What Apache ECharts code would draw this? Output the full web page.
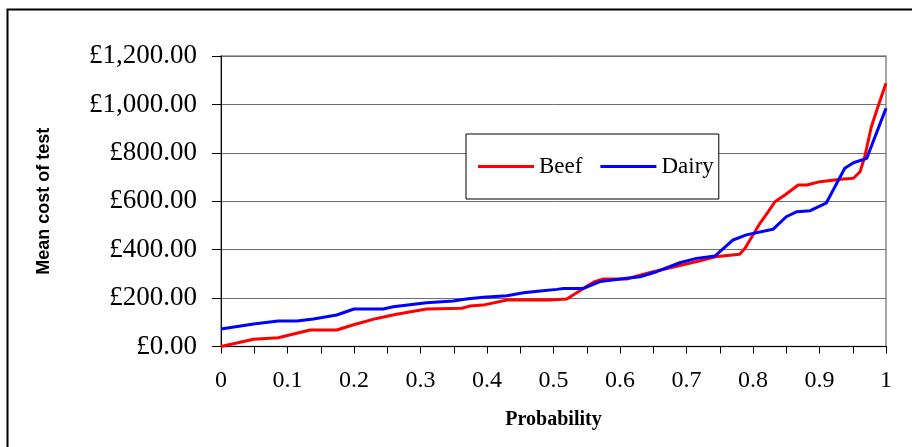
<!DOCTYPE html>
<html>
<head>
<meta charset="utf-8">
<script src="https://cdn.jsdelivr.net/npm/echarts@6/dist/echarts.min.js"></script>
<style>html,body{margin:0;padding:0;background:#fff;}#c{width:912px;height:447px;}</style>
</head>
<body>
<div id="c"></div>
<script>
// Probability (x) and mean cost (y) at visible breakpoints
const beefProb = [0, 0.049, 0.086, 0.134, 0.174, 0.198, 0.234, 0.264, 0.309, 0.362, 0.374, 0.394, 0.43, 0.495, 0.52, 0.545, 0.562, 0.575, 0.61, 0.63, 0.65, 0.69, 0.725, 0.743, 0.78, 0.788, 0.811, 0.823, 0.833, 0.848, 0.868, 0.881, 0.901, 0.932, 0.951, 0.961, 0.968, 0.978, 0.988, 1.0];
const beefCost = [0, 30, 36, 68, 68, 89, 116, 133, 155, 158, 167, 171, 192, 192, 196, 240, 268, 279, 279, 295, 309, 334, 357, 371, 381, 406, 511, 557, 598, 626, 667, 667, 681, 691, 695, 722, 784, 908, 991, 1087];

const dairyProb = [0, 0.049, 0.086, 0.114, 0.139, 0.174, 0.2, 0.244, 0.259, 0.309, 0.349, 0.369, 0.394, 0.43, 0.455, 0.48, 0.505, 0.515, 0.545, 0.57, 0.61, 0.63, 0.655, 0.69, 0.715, 0.743, 0.77, 0.79, 0.83, 0.85, 0.866, 0.886, 0.91, 0.938, 0.951, 0.971, 1.0];
const dairyCost = [72, 93, 105, 105, 114, 130, 155, 155, 164, 181, 188, 196, 203, 210, 222, 229, 236, 240, 240, 268, 282, 288, 309, 346, 364, 374, 440, 461, 484, 536, 557, 561, 592, 736, 759, 777, 984];

const seriesNames = ['Beef', 'Dairy'];
const seriesColors = ['#ff0000', '#0000ff'];

const pairs = (xs, ys) => xs.map((x, i) => [x, ys[i]]);

const chart = echarts.init(document.getElementById('c'), null, {renderer: 'canvas'});
chart.setOption({
  backgroundColor: '#ffffff',
  animation: false,
  graphic: [{
    type: 'rect',
    shape: {x: 7.5, y: 9.5, width: 1000, height: 1000},
    style: {fill: 'none', stroke: '#000', lineWidth: 2},
    silent: true,
    z: 100
  }],
  grid: {
    left: 221, right: 26, top: 56, bottom: 100.5,
    show: true, borderColor: '#8a8a8a', borderWidth: 1.5
  },
  legend: {
    left: 466, top: 134,
    orient: 'horizontal',
    data: seriesNames,
    icon: 'rect',
    itemWidth: 56, itemHeight: 3, itemGap: 18,
    padding: [21, 5, 21, 12],
    borderColor: '#000', borderWidth: 1,
    backgroundColor: '#fff',
    textStyle: {fontFamily: 'Liberation Serif', fontSize: 23, color: '#000'}
  },
  xAxis: {
    type: 'value', min: 0, max: 1, interval: 0.05,
    name: 'Probability', nameLocation: 'middle', nameGap: 63,
    nameTextStyle: {fontFamily: 'Liberation Serif', fontWeight: 'bold', fontSize: 20, color: '#000'},
    axisLine: {show: true, lineStyle: {color: '#000', width: 1}},
    axisTick: {show: true, length: 7, lineStyle: {color: '#000'}},
    splitLine: {show: false},
    axisLabel: {
      margin: 22, fontFamily: 'Liberation Serif', fontSize: 24, color: '#000',
      formatter: v => (Math.round(v * 100) % 10 === 0) ? String(Math.round(v * 10) / 10) : ''
    }
  },
  yAxis: {
    type: 'value', min: 0, max: 1200, interval: 200,
    name: 'Mean cost of test', nameLocation: 'middle', nameGap: 168,
    nameTextStyle: {fontFamily: 'Liberation Sans', fontWeight: 'bold', fontSize: 18, color: '#000'},
    axisLine: {show: true, lineStyle: {color: '#000', width: 1}},
    axisTick: {show: true, length: 9, lineStyle: {color: '#000'}},
    splitLine: {show: true, lineStyle: {color: '#6e6e6e', width: 1}},
    axisLabel: {
      margin: 24, fontFamily: 'Liberation Serif', fontSize: 27, color: '#000',
      formatter: v => '£' + v.toLocaleString('en-GB', {minimumFractionDigits: 2, maximumFractionDigits: 2})
    }
  },
  series: [
    {name: seriesNames[0], type: 'line', data: pairs(beefProb, beefCost), symbol: 'none', showSymbol: false,
     lineStyle: {color: seriesColors[0], width: 3}, itemStyle: {color: seriesColors[0]}},
    {name: seriesNames[1], type: 'line', data: pairs(dairyProb, dairyCost), symbol: 'none', showSymbol: false,
     lineStyle: {color: seriesColors[1], width: 3}, itemStyle: {color: seriesColors[1]}}
  ]
});
</script>
</body>
</html>
